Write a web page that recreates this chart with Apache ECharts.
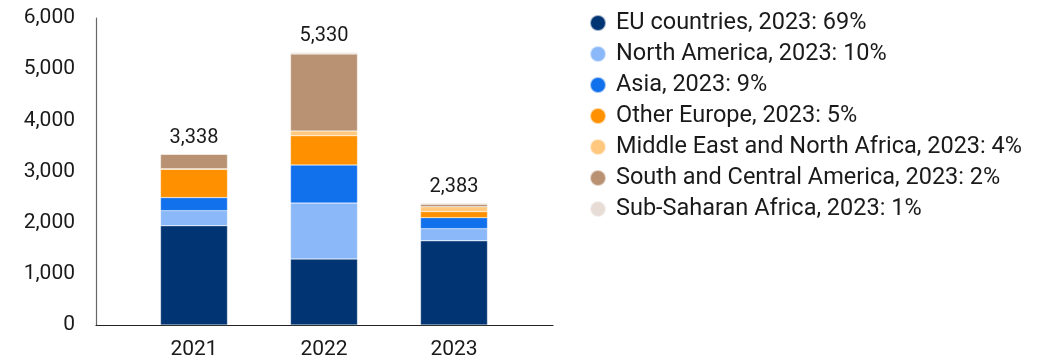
<!DOCTYPE html>
<html>
<head>
<meta charset="utf-8">
<script src="https://cdn.jsdelivr.net/npm/echarts@6/dist/echarts.min.js"></script>
<style>
  html, body { margin: 0; padding: 0; background: #fff; }
  #chart { width: 1058px; height: 362px; }
</style>
</head>
<body>
<div id="chart"></div>
<script>
const years = ['2021', '2022', '2023'];
const totals = [3338, 5330, 2383];

const euCountries = [1940, 1290, 1645];
const northAmerica = [295, 1094, 238];
const asia = [255, 743, 215];
const otherEurope = [555, 573, 119];
const middleEastNorthAfrica = [8, 92, 95];
const southCentralAmerica = [285, 1505, 48];
const subSaharanAfrica = [0, 33, 23];

const seriesDefs = [
  { name: 'EU countries, 2023: 69%', data: euCountries, color: '#003473' },
  { name: 'North America, 2023: 10%', data: northAmerica, color: '#8ab8f8' },
  { name: 'Asia, 2023: 9%', data: asia, color: '#1170eb' },
  { name: 'Other Europe, 2023: 5%', data: otherEurope, color: '#ff9100' },
  { name: 'Middle East and North Africa, 2023: 4%', data: middleEastNorthAfrica, color: '#ffc87e' },
  { name: 'South and Central America, 2023: 2%', data: southCentralAmerica, color: '#b89272' },
  { name: 'Sub-Saharan Africa, 2023: 1%', data: subSaharanAfrica, color: '#e8ddd6' }
];

const fmt = v => v.toLocaleString('en-US');
const textColor = '#1a1a1a';

const series = seriesDefs.map((s, idx) => ({
  name: s.name,
  type: 'bar',
  stack: 'total',
  barWidth: 67,
  data: s.data,
  itemStyle: { color: s.color, borderColor: 'rgba(255,255,255,0.6)', borderWidth: 0.5 },
  label: idx === seriesDefs.length - 1 ? {
    show: true,
    position: 'top',
    distance: 6,
    color: textColor,
    fontSize: 20,
    formatter: p => fmt(totals[p.dataIndex])
  } : { show: false },
  emphasis: { disabled: true }
}));

const chart = echarts.init(document.getElementById('chart'));
chart.setOption({
  animation: false,
  textStyle: { fontFamily: 'Roboto' },
  // grid 0 holds the bars, grid 1 only carries the longer x axis line
  grid: [
    { left: 129, top: 18, width: 390, bottom: 37 },
    { left: 96, top: 18, width: 457, bottom: 37 }
  ],
  legend: {
    orient: 'vertical',
    left: 584,
    top: 6,
    icon: 'circle',
    itemWidth: 16,
    itemHeight: 16,
    itemGap: 7,
    textStyle: { fontSize: 23.5, lineHeight: 23, color: textColor, padding: [0, 0, 0, 5] },
    data: seriesDefs.map(s => s.name),
    selectedMode: false
  },
  xAxis: [
    {
      type: 'category',
      gridIndex: 0,
      data: years,
      axisLine: { show: false },
      axisTick: { show: false },
      axisLabel: { fontSize: 21, color: textColor, margin: 14 }
    },
    {
      type: 'value',
      gridIndex: 1,
      min: 0,
      max: 1,
      splitLine: { show: false },
      axisLine: { show: true, lineStyle: { color: '#222', width: 1.2 } },
      axisTick: { show: false },
      axisLabel: { show: false }
    }
  ],
  yAxis: [
    {
      type: 'value',
      gridIndex: 0,
      min: 0,
      max: 6000,
      interval: 1000,
      offset: 33,
      splitLine: { show: false },
      axisLine: { show: true, lineStyle: { color: '#666', width: 1.2 } },
      axisTick: { show: false },
      axisLabel: { formatter: v => fmt(v), fontSize: 21, color: textColor, margin: 21 }
    },
    {
      type: 'value',
      gridIndex: 1,
      min: 0,
      max: 1,
      show: false
    }
  ],
  series: series
});
</script>
</body>
</html>
